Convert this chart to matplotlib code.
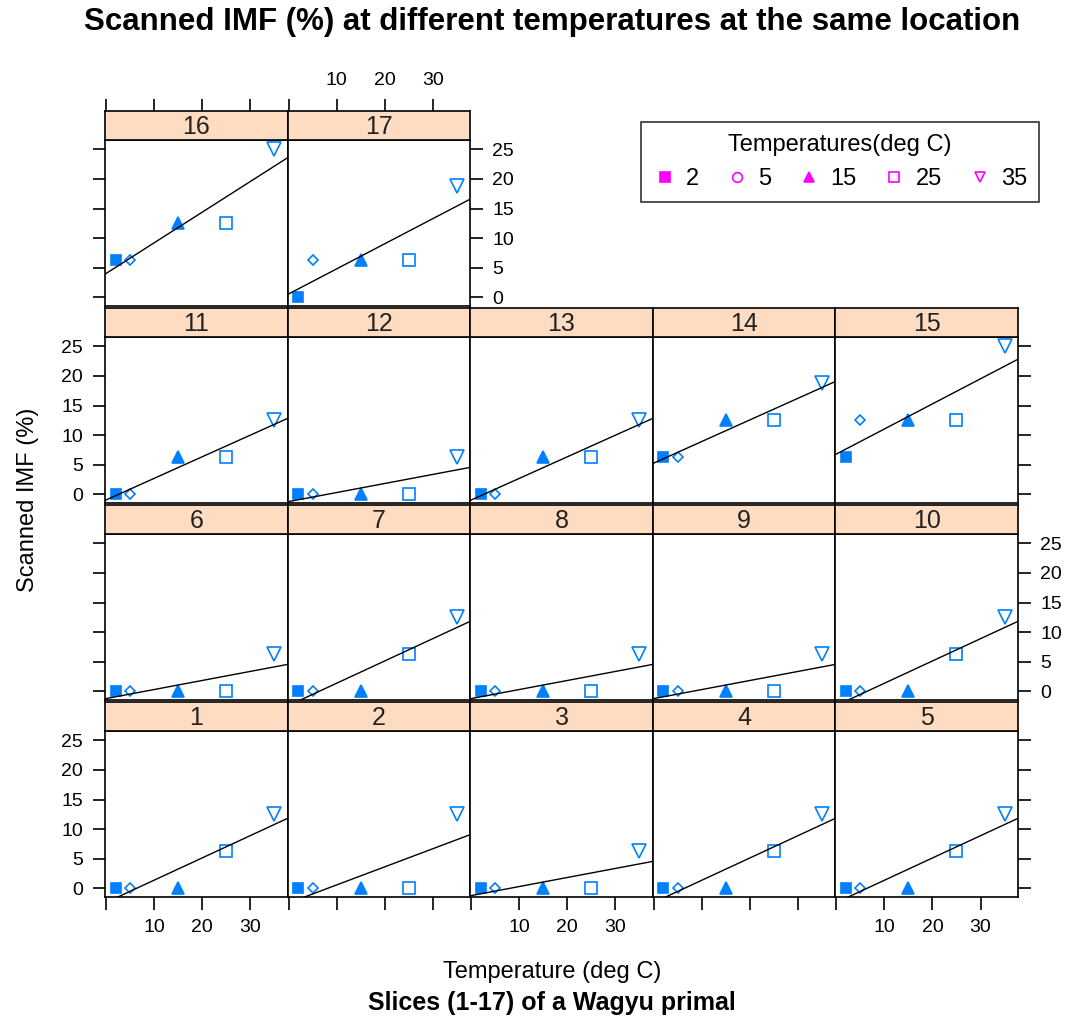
import numpy as np
import matplotlib
matplotlib.use("Agg")
import matplotlib.pyplot as plt
from matplotlib.lines import Line2D

plt.rcParams['font.family'] = ['Liberation Sans', 'DejaVu Sans']

# temperatures (deg C) and scanned IMF (%) per slice
temps = [2, 5, 15, 25, 35]
slices = list(range(1, 18))
imf = {
    1: [0, 0, 0, 6.25, 12.5],
    2: [0, 0, 0, 0, 12.5],
    3: [0, 0, 0, 0, 6.25],
    4: [0, 0, 0, 6.25, 12.5],
    5: [0, 0, 0, 6.25, 12.5],
    6: [0, 0, 0, 0, 6.25],
    7: [0, 0, 0, 6.25, 12.5],
    8: [0, 0, 0, 0, 6.25],
    9: [0, 0, 0, 0, 6.25],
    10: [0, 0, 0, 6.25, 12.5],
    11: [0, 0, 6.25, 6.25, 12.5],
    12: [0, 0, 0, 0, 6.25],
    13: [0, 0, 6.25, 6.25, 12.5],
    14: [6.25, 6.25, 12.5, 12.5, 18.75],
    15: [6.25, 12.5, 12.5, 12.5, 25],
    16: [6.25, 6.25, 12.5, 12.5, 25],
    17: [0, 6.25, 6.25, 6.25, 18.75],
}
x_ticks = [0, 10, 20, 30]
x_tick_labels = ['', '10', '20', '30']
y_ticks = [0, 5, 10, 15, 20, 25]

# marker style per temperature: (marker, filled, size)
symbols = [('s', True, 7), ('D', False, 5.5), ('^', True, 8), ('s', False, 8), ('v', False, 9.5)]
point_col = '#0080ff'
strip_col = '#fedcc2'

W, H = 1070, 1021
fig = plt.figure(figsize=(W / 100, H / 100), dpi=100)

xlim = (-0.2, 37.8)
ylim = (-1.5, 26.6)
tick_kw = dict(direction='out', length=9, width=1.2, labelsize=14, pad=7)


def px_box(left, top, width, height):
    '''pixel box (from top-left) to figure fraction rect'''
    return [left / W, 1 - (top + height) / H, width / W, height / H]


col_w = 182.6
panel_h = 166
strip_h = 29
row_step = 197

for k in slices:
    r = (k - 1) // 5
    c = (k - 1) % 5
    left = 105 + c * col_w
    bottom = 897 - r * row_step
    top = bottom - panel_h

    ax = fig.add_axes(px_box(left, top, col_w, panel_h))
    y = imf[k]
    for t, v, (m, filled, ms) in zip(temps, y, symbols):
        ax.plot(t, v, marker=m, ms=ms, linestyle='none',
                mfc=point_col if filled else 'none', mec=point_col, mew=1.2)
    slope, icpt = np.polyfit(temps, y, 1)
    ax.plot(xlim, [icpt + slope * xlim[0], icpt + slope * xlim[1]], color='black', lw=1)
    ax.set_xlim(xlim)
    ax.set_ylim(ylim)
    for s in ax.spines.values():
        s.set_linewidth(1.2)

    # lattice style alternating axes
    left_axis = c == 0
    right_axis = k in (5, 10, 15, 17)
    bottom_axis = r == 0
    ax.set_xticks(x_ticks)
    ax.set_xticklabels(x_tick_labels)
    ax.set_yticks(y_ticks)
    ax.tick_params(left=left_axis, labelleft=left_axis and r in (0, 2),
                   right=right_axis, labelright=right_axis and r in (1, 3),
                   bottom=bottom_axis, labelbottom=bottom_axis and c in (0, 2, 4),
                   top=False, labeltop=False, **tick_kw)

    # strip on top of the panel, carries the top axis for the top row
    sax = fig.add_axes(px_box(left, top - strip_h, col_w, strip_h))
    sax.set_facecolor(strip_col)
    sax.set_xlim(xlim)
    sax.set_yticks([])
    if r == 3:
        sax.set_xticks(x_ticks)
        sax.set_xticklabels(x_tick_labels)
        sax.tick_params(bottom=False, labelbottom=False, top=True, labeltop=c == 1, **tick_kw)
    else:
        sax.set_xticks([])
    for s in sax.spines.values():
        s.set_linewidth(1.2)
    sax.text(0.5, 0.45, str(k), ha='center', va='center', fontsize=18, color='#222222',
             transform=sax.transAxes)

fig.text(552 / W, 1 - 22 / H, 'Scanned IMF (%) at different temperatures at the same location',
         ha='center', va='center', fontsize=22.5, fontweight='bold')
fig.text(552 / W, 1 - 972 / H, 'Temperature (deg C)', ha='center', va='center', fontsize=17)
fig.text(552 / W, 1 - 1003 / H, 'Slices (1-17) of a Wagyu primal', ha='center', va='center',
         fontsize=18, fontweight='bold')
fig.text(28 / W, 1 - 500 / H, 'Scanned IMF (%)', ha='center', va='center', fontsize=17,
         rotation=90)

# legend
handles = []
leg_syms = [('s', True), ('o', False), ('^', True), ('s', False), ('v', False)]
for m, filled in leg_syms:
    handles.append(Line2D([], [], marker=m, linestyle='none', ms=7, mec='#ff00ff',
                          mfc='#ff00ff' if filled else 'none', mew=1.2))
leg = fig.legend(handles, [str(t) for t in temps], ncol=5, loc='center',
                 bbox_to_anchor=(840 / W, 1 - 162 / H), title='Temperatures(deg C)',
                 fontsize=17, title_fontsize=17, frameon=True, fancybox=False,
                 edgecolor='black', handletextpad=0.4, columnspacing=1.1,
                 borderpad=0.5, handlelength=1.0)
leg.get_frame().set_linewidth(1.2)

fig.savefig('out.png', dpi=100)
